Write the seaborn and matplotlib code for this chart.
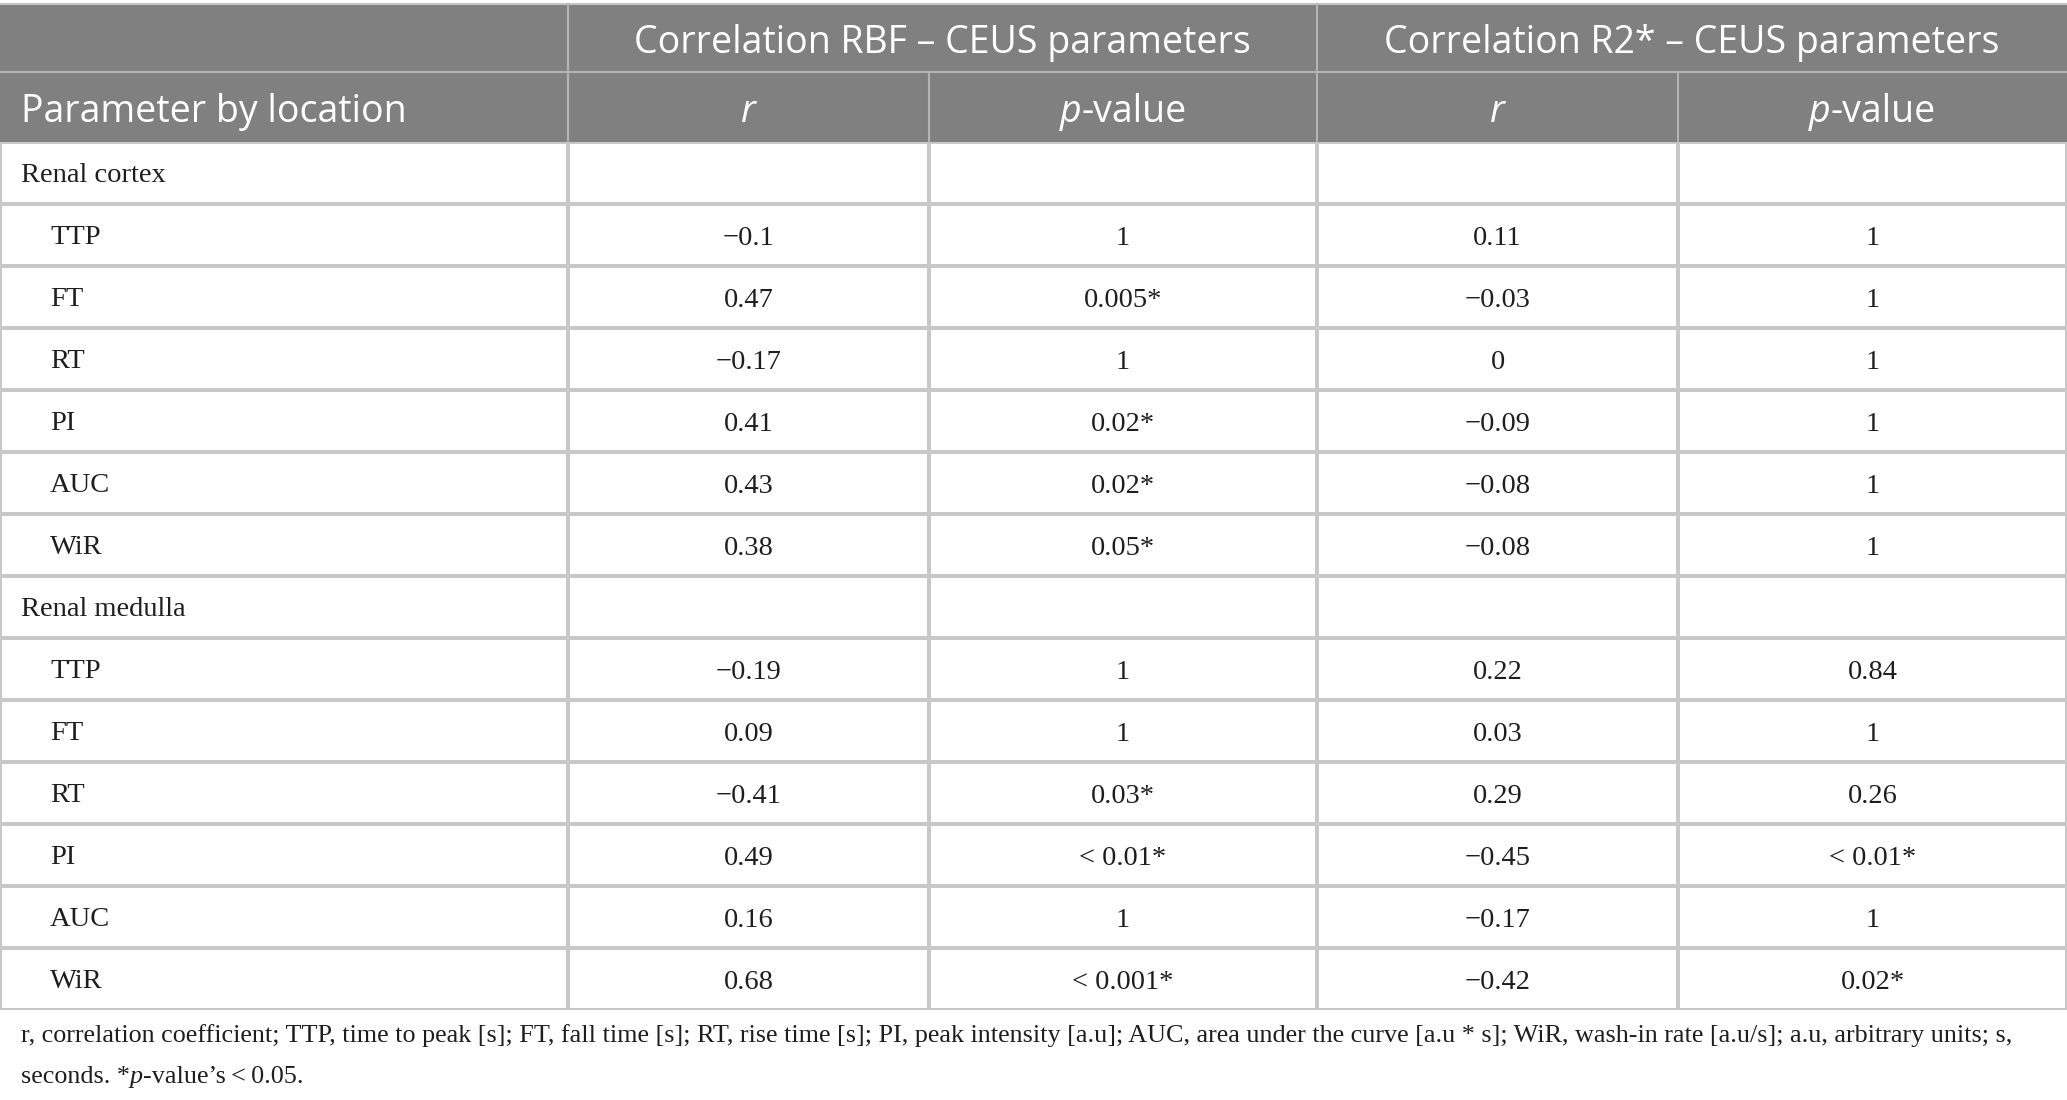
import numpy as np
import matplotlib
matplotlib.use("Agg")
import matplotlib.pyplot as plt
from matplotlib.colors import ListedColormap
from matplotlib.patches import Rectangle
import seaborn as sns

# table contents
groups = ["Renal cortex", "Renal medulla"]
params = ["TTP", "FT", "RT", "PI", "AUC", "WiR"]

rbf_r_cortex = [-0.1, 0.47, -0.17, 0.41, 0.43, 0.38]
rbf_p_cortex = ["1", "0.005*", "1", "0.02*", "0.02*", "0.05*"]
r2_r_cortex = [0.11, -0.03, 0, -0.09, -0.08, -0.08]
r2_p_cortex = ["1", "1", "1", "1", "1", "1"]

rbf_r_medulla = [-0.19, 0.09, -0.41, 0.49, 0.16, 0.68]
rbf_p_medulla = ["1", "1", "0.03*", "< 0.01*", "1", "< 0.001*"]
r2_r_medulla = [0.22, 0.03, 0.29, -0.45, -0.17, -0.42]
r2_p_medulla = ["0.84", "1", "0.26", "< 0.01*", "1", "0.02*"]

top_headers = ["Correlation RBF \u2013 CEUS parameters", "Correlation R2* \u2013 CEUS parameters"]
first_header = "Parameter by location"
footnote1 = ("r, correlation coefficient; TTP, time to peak [s]; FT, fall time [s]; RT, rise time [s]; "
             "PI, peak intensity [a.u]; AUC, area under the curve [a.u * s]; WiR, wash-in rate [a.u/s]; "
             "a.u, arbitrary units; s,")


def fmt_r(v):
    return f"{v:g}".replace("-", "\u2212")


# build the body as label + 4 string columns
labels, indent, cells = [], [], []
blocks = [(rbf_r_cortex, rbf_p_cortex, r2_r_cortex, r2_p_cortex),
          (rbf_r_medulla, rbf_p_medulla, r2_r_medulla, r2_p_medulla)]
for g, (a, b, c, d) in zip(groups, blocks):
    labels.append(g)
    indent.append(False)
    cells.append(["", "", "", ""])
    for i, p in enumerate(params):
        labels.append(p)
        indent.append(True)
        cells.append([fmt_r(a[i]), b[i], fmt_r(c[i]), d[i]])
cells = np.array(cells, dtype=object)
n = len(labels)

# layout in pixels
W, H = 2067, 1100
col_edges = [0, 568, 929, 1317, 1678, 2067]
head_top, head_mid, body_top, row_h = 4, 72, 142, 62
body_bot = body_top + row_h * n

head_bg = "#808080"
head_line = "#b4b4b4"
grid = "#c8c8c8"
ink = "#1e1e1e"
serif = ["Liberation Serif", "DejaVu Serif"]
sans = ["Open Sans", "DejaVu Sans"]
body_size = 20.5

sns.set_theme(style="white")
fig = plt.figure(figsize=(W / 100, H / 100), dpi=100)

# body: one heatmap per column so widths match the original
for j in range(5):
    x0, x1 = col_edges[j], col_edges[j + 1]
    hax = fig.add_axes([x0 / W, (H - body_bot) / H, (x1 - x0) / W, (body_bot - body_top) / H])
    annot = cells[:, j - 1].reshape(-1, 1) if j > 0 else False
    sns.heatmap(np.zeros((n, 1)), ax=hax, cmap=ListedColormap(["white"]), vmin=0, vmax=1,
                cbar=False, linewidths=1.5, linecolor=grid, annot=annot, fmt="",
                annot_kws=dict(fontsize=body_size, color=ink, fontfamily=serif),
                xticklabels=False, yticklabels=False)
    for t in hax.texts:
        tx, ty = t.get_position()
        t.set_position((tx, ty + 0.05))
    hax.set_xlabel("")
    hax.set_ylabel("")

# overlay for header, labels and footnote
ax = fig.add_axes([0, 0, 1, 1])
ax.set_xlim(0, W)
ax.set_ylim(H, 0)
ax.axis("off")

ax.add_patch(Rectangle((0, head_top), W, body_top - head_top, color=head_bg, lw=0))
ax.plot([0, W], [head_top, head_top], color="#c4c4c4", lw=1.5)
ax.plot([0, W], [head_mid, head_mid], color=head_line, lw=1.5)
for x in [568, 1317]:
    ax.plot([x, x], [head_top, body_top], color=head_line, lw=1.5)
for x in [929, 1678]:
    ax.plot([x, x], [head_mid, body_top], color=head_line, lw=1.5)

renderer = fig.canvas.get_renderer()


def mixed_text(x, y, parts, ha, size, color, family):
    texts = [ax.text(0, y, s, fontsize=size, color=color, family=family, style=st,
                     va="center", ha="left") for s, st in parts]
    widths = [t.get_window_extent(renderer).width for t in texts]
    start = x - sum(widths) / 2 if ha == "center" else x
    for t, w in zip(texts, widths):
        t.set_x(start)
        start += w


head_size = 27
for k, txt in enumerate(top_headers):
    xc = (col_edges[1 + 2 * k] + col_edges[3 + 2 * k]) / 2
    ax.text(xc, (head_top + head_mid) / 2 + 5, txt, fontsize=head_size, color="white",
            family=sans, ha="center", va="center")
yc2 = (head_mid + body_top) / 2 + 5
ax.text(21, yc2, first_header, fontsize=head_size, color="white",
        family=sans, ha="left", va="center")
for j in range(1, 5):
    xc = (col_edges[j] + col_edges[j + 1]) / 2
    if j % 2 == 1:
        ax.text(xc, yc2, "r", fontsize=head_size, color="white", family=sans,
                style="italic", ha="center", va="center")
    else:
        mixed_text(xc, yc2, [("p", "italic"), ("-value", "normal")], "center",
                   head_size, "white", sans)

for i, (lab, ind) in enumerate(zip(labels, indent)):
    ax.text(50 if ind else 21, body_top + row_h * (i + 0.5) + 3, lab, fontsize=body_size,
            color=ink, family=serif, ha="left", va="center")

# footnote: shrink to the width it takes in the original
fn = ax.text(21, 1036, footnote1, fontsize=20, color=ink, family=serif, ha="left", va="center")
fn_w = fn.get_window_extent(renderer).width
fn_size = 20 * 1989 / fn_w
fn.set_fontsize(fn_size)
mixed_text(21, 1077, [("seconds. *", "normal"), ("p", "italic"),
                      ("-value\u2019s\u2009<\u20090.05.", "normal")],
           "left", fn_size, ink, serif)

fig.savefig("out.png", dpi=100)
